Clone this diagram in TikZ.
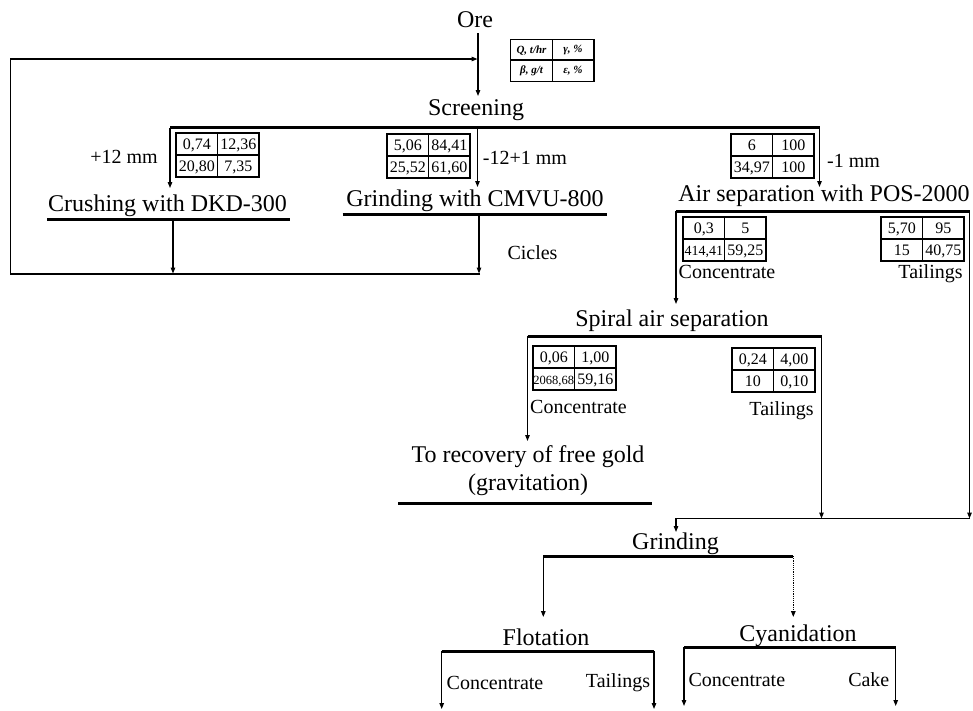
\documentclass[tikz,border=0pt]{standalone}
\usepackage{fontspec}
\setmainfont{Liberation Serif}
\usepackage{graphicx}
\usetikzlibrary{arrows.meta}
\newcommand{\flowtab}[6]{%
  \begin{scope}[shift={(#2)}]
    \draw[tab] (0,0) rectangle (83,44);
    \draw[tab] (41.5,0) -- (41.5,44) (0,22) -- (83,22);
    \node[num] (#1-a) at (20.75,11) {#3};
    \node[num] (#1-b) at (62.25,11) {#4};
    \node[num] (#1-c) at (20.75,33) {#5};
    \node[num] (#1-d) at (62.25,33) {#6};
  \end{scope}}
\begin{document}
\begin{tikzpicture}[x=1pt,y=-1pt,
  lbl/.style={anchor=base,inner sep=0pt,font=\fontsize{24}{28}\selectfont},
  sub/.style={anchor=base,inner sep=0pt,font=\fontsize{20}{24}\selectfont},
  num/.style={inner sep=0pt,text height=11pt,text depth=0pt,font=\fontsize{16}{18}\selectfont},
  key/.style={inner sep=0pt,font=\fontsize{11}{13}\selectfont\bfseries\itshape},
  tab/.style={line width=1.2pt},
  bar/.style={line width=3pt},
  flow/.style={line width=1.2pt,-{Triangle[length=6pt,width=4.5pt]}}]
\useasboundingbox (0,0) rectangle (973,710);

\draw[tab] (510.7,39.3) rectangle (594,81.7);
\draw[tab] (552.3,39.3) -- (552.3,81.7) (510.7,60) -- (594,60);
\node[key] (kq) at (531.5,50.5) {Q, t/hr};
\node[key] (kg) at (573,50.5) {γ, \%};
\node[key] (kb) at (531.5,71) {β, g/t};
\node[key] (ke) at (573,71) {ε, \%};

\node[lbl] (ore) at (475,27) {Ore};
\node[lbl] (scr) at (476,115) {Screening};
\coordinate (oreOut) at (478,33);
\coordinate (scrIn) at (478,96);
\coordinate (oreIn) at (477.5,59);
\draw[flow] (oreOut) -- (scrIn);

\coordinate (scrL) at (170,127.5);
\coordinate (scrM) at (477.5,127.5);
\coordinate (scrR) at (819.5,127.5);
\coordinate (crsIn) at (170,188);
\coordinate (grcIn) at (477.5,187);
\coordinate (airIn) at (819.5,187);
\draw[bar] (scrL) -- (scrR);
\draw[flow] (scrL) -- (crsIn);
\draw[flow] (scrM) -- (grcIn);
\draw[flow] (scrR) -- (airIn);

\flowtab{t1}{176,133}{0,74}{12,36}{20,80}{7,35}
\flowtab{t2}{387,134}{5,06}{84,41}{25,52}{61,60}
\flowtab{t3}{731,134}{6}{100}{34,97}{100}
\node[sub] (p12) at (124,163.5) {+12 mm};
\node[sub] (m121) at (525,164.5) {-12+1 mm};
\node[sub] (m1) at (853.5,167) {-1 mm};

\node[lbl] (crs) at (167.5,211.5) {Crushing with DKD-300};
\node[lbl] (grc) at (475,206) {Grinding with CMVU-800};
\coordinate (crsL) at (47,219);
\coordinate (crsR) at (290,219);
\coordinate (crsD) at (173,219);
\coordinate (crsOut) at (173,273.5);
\coordinate (grcL) at (342.7,214.5);
\coordinate (grcR) at (606.5,214.5);
\coordinate (grcD) at (479,214.5);
\coordinate (grcOut) at (479,273.5);
\draw[bar] (crsL) -- (crsR);
\draw[bar] (grcL) -- (grcR);
\draw[flow] (crsD) -- (crsOut);
\draw[flow] (grcD) -- (grcOut);
\node[sub] (cyc) at (532.5,259.5) {Cicles};
\coordinate (cycR) at (480,274);
\coordinate (cycBL) at (10.7,274);
\coordinate (cycTL) at (10.7,59);
\draw[flow] (cycR) -- (cycBL) -- (cycTL) -- (oreIn);

\node[lbl] (air) at (824,201.5) {Air separation with POS-2000};
\coordinate (airL) at (676,211);
\coordinate (airR) at (969.5,211);
\coordinate (spiIn) at (676,304);
\coordinate (colR) at (969.5,518.5);
\draw[bar] (airL) -- (airR);
\draw[flow] (airL) -- (spiIn);
\draw[flow] (airR) -- (colR);
\flowtab{t4}{683,217}{0,3}{5}{{\fontsize{14}{16}\selectfont 414,41}}{59,25}
\flowtab{t5}{881,217}{5,70}{95}{15}{40,75}
\node[sub] (airc) at (727,278) {Concentrate};
\node[sub] (airt) at (930.5,278) {Tailings};

\node[lbl] (spi) at (672,326) {Spiral air separation};
\coordinate (spiL) at (527.5,336);
\coordinate (spiR) at (821.5,336);
\coordinate (goldIn) at (527.5,441);
\coordinate (colM) at (821.5,518.5);
\draw[bar] (spiL) -- (spiR);
\draw[flow] (spiL) -- (goldIn);
\draw[flow] (spiR) -- (colM);
\flowtab{t6}{533,346}{0,06}{1,00}{{\fontsize{12.5}{14}\selectfont 2068,68}}{59,16}
\flowtab{t7}{732,348}{0,24}{4,00}{10}{0,10}
\node[sub] (spic) at (578.5,413) {Concentrate};
\node[sub] (spit) at (781.5,415) {Tailings};

\node[lbl,anchor=center,align=center] (gold) at (528,470.5) {To recovery of free gold\\(gravitation)};
\coordinate (goldL) at (398,503.7);
\coordinate (goldR) at (651.6,503.7);
\draw[bar] (goldL) -- (goldR);

\coordinate (colL) at (676,518.5);
\coordinate (grdIn) at (676,532);
\draw[flow] (colR) -- (colL) -- (grdIn);

\node[lbl] (grd) at (675.5,549) {Grinding};
\coordinate (grdL) at (543.3,556);
\coordinate (grdR) at (793.3,556);
\coordinate (floIn) at (543.3,617);
\coordinate (cyaIn) at (793.3,617);
\draw[bar] (grdL) -- (grdR);
\draw[flow] (grdL) -- (floIn);
\draw[flow,densely dotted] (grdR) -- (cyaIn);

\node[lbl] (flo) at (546,645.5) {Flotation};
\node[lbl] (cya) at (798,641.5) {Cyanidation};
\coordinate (floL) at (441.7,651);
\coordinate (floR) at (654,651);
\coordinate (floC) at (441.7,709);
\coordinate (floT) at (654,709);
\coordinate (cyaL) at (684,647);
\coordinate (cyaR) at (895.7,647);
\coordinate (cyaC) at (684,706);
\coordinate (cyaK) at (895.7,706);
\draw[bar] (floL) -- (floR);
\draw[bar] (cyaL) -- (cyaR);
\draw[flow] (floL) -- (floC);
\draw[flow] (floR) -- (floT);
\draw[flow] (cyaL) -- (cyaC);
\draw[flow] (cyaR) -- (cyaK);
\node[sub] (floc) at (495,689) {Concentrate};
\node[sub] (flot) at (618,687.5) {Tailings};
\node[sub] (cyac) at (736.8,686.7) {Concentrate};
\node[sub] (cake) at (868.8,686.7) {Cake};
\end{tikzpicture}
\end{document}
